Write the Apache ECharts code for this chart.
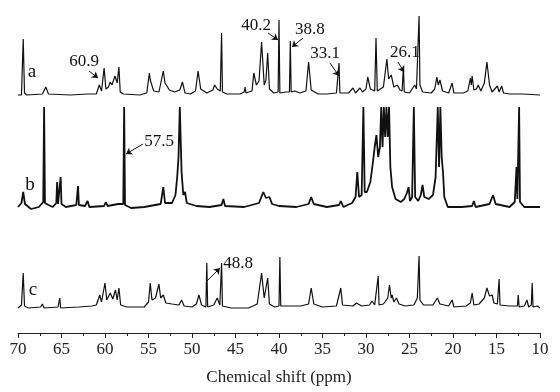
<!DOCTYPE html>
<html>
<head>
<meta charset="utf-8">
<script src="https://cdn.jsdelivr.net/npm/echarts@6/dist/echarts.min.js"></script>
<style>
  html, body { margin: 0; padding: 0; background: #fff; }
  #main { width: 560px; height: 392px; }
</style>
</head>
<body>
<div id="main"></div>
<script>
// spectra: [ppm, intensity]
var specA = [[70,0],[69.6,0],[69.4,56],[69.25,2],[69.0,0],[67.2,1],[66.8,8],[66.5,1],[64.0,0],[62.0,1],
  [61.0,1],[60.65,10],[60.4,4],[60.1,27],[59.9,6],[59.6,8],[59.4,13],[59.2,10],[58.85,19],[58.6,12],[58.4,28],[58.25,3],[57.9,1],
  [56.0,0],[55.2,2],[54.9,22],[54.8,15],[54.7,16],[54.4,4],[53.8,3],[53.3,24],[53.1,12],[52.9,13],[52.6,5],[52.0,3],[51.4,5],[51.1,13],[50.8,2],[50.2,1],
  [49.6,4],[49.3,24],[49.0,6],[48.3,2],[47.6,5],[47.4,10],[47.1,6],[46.75,4],[46.6,62],[46.5,3],[46.0,1],
  [44.5,1],[44.0,3],[43.9,8],[43.8,2],[43.1,4],[42.9,22],[42.6,10],[42.3,14],[42.0,53],[41.7,10],[41.5,15],[41.3,42],[41.1,6],[40.6,2],[40.1,3],[40.0,75],[39.9,2],
  [39.2,3],[38.8,3],[38.7,54],[38.6,3],[38.2,4],[37.6,2],[36.9,4],[36.6,33],[36.3,5],[35.5,1],[34.5,1],[33.4,2],[33.1,32],[33.0,2],[32.0,2],[31.5,7],[31.2,2],
  [30.7,7],[30.4,3],[30.0,6],[29.8,18],[29.5,6],[29.0,4],[28.85,57],[28.7,4],[28.0,8],[27.6,36],[27.4,16],[27.1,20],[26.8,8],[26.4,10],[26.1,5],[25.85,4],[25.7,28],[25.6,3],
  [25.0,2],[24.4,10],[24.2,6],[23.9,79],[23.8,10],[23.5,3],[22.5,2],[22.1,6],[21.85,18],[21.7,10],[21.5,15],[21.2,4],[20.5,2],[20.1,12],[19.9,2],
  [18.8,2],[18.3,4],[18.0,17],[17.9,10],[17.8,19],[17.6,5],[17.3,6],[17.1,10],[16.8,4],[16.4,12],[16.1,33],[15.8,10],[15.5,3],[14.9,9],[14.7,3],[14.4,9],[14.2,2],[13.5,1],[12.0,1],[10,0]];

var specB = [[70,0],[69.6,4],[69.4,15],[69.2,3],[68.5,-2],[67.6,0],[67.1,5],[67.0,100],[66.9,4],[66.5,2],[66.0,0],[65.6,4],[65.5,25],[65.4,3],[65.2,4],[65.1,30],[65.0,3],
  [64.5,0],[63.3,2],[63.1,21],[63.0,2],[62.3,1],[62.0,6],[61.8,0],[60.1,1],[59.9,5],[59.7,1],[58.5,3],[57.9,3],[57.8,100],[57.7,2],[57.0,-1],[55.5,0],
  [53.6,3],[53.3,20],[53.1,4],[52.3,4],[51.9,12],[51.7,30],[51.55,50],[51.4,100],[51.2,35],[51.0,12],[50.8,15],[50.6,4],[49.5,1],[48.0,0],[46.6,2],[46.4,8],[46.2,1],
  [44.0,0],[42.3,4],[41.8,15],[41.5,9],[41.1,10],[40.8,3],[40.0,1],[38.0,0],[36.6,3],[36.3,10],[36.0,3],[34.5,0],[33.1,2],[32.9,6],[32.6,0],
  [31.6,4],[31.2,10],[31.0,35],[30.8,10],[30.5,12],[30.3,100],[30.15,15],[29.9,15],[29.5,25],[29.2,45],[29.0,60],[28.8,72],[28.6,50],[28.4,60],[28.25,100],[28.1,60],
  [27.95,100],[27.8,70],[27.65,100],[27.5,70],[27.35,100],[27.2,40],[27.0,20],[26.6,8],[26.0,5],[25.6,8],[25.3,14],[25.1,20],[24.95,6],[24.7,10],[24.5,100],[24.35,10],
  [24.0,6],[23.7,12],[23.5,22],[23.3,10],[22.8,8],[22.3,12],[22.0,30],[21.75,100],[21.6,40],[21.45,100],[21.3,50],[21.15,35],[21.0,10],[20.6,0],[19.0,0],
  [17.8,1],[17.6,6],[17.4,0],[15.8,3],[15.4,12],[15.1,3],[13.5,0],[12.9,5],[12.7,40],[12.6,8],[12.5,10],[12.4,100],[12.3,5],[11.8,0],[10,0]];

var specC = [[70,0],[69.6,3],[69.4,35],[69.25,2],[68.8,0],[67.4,1],[67.2,4],[67.0,0],[65.4,1],[65.2,10],[65.1,0],[63.0,1],[61.5,2],[61.0,3],
  [60.6,13],[60.4,6],[60.0,25],[59.8,8],[59.6,10],[59.4,15],[59.1,9],[58.8,18],[58.6,8],[58.4,20],[58.2,3],[57.5,1],[55.5,1],[55.0,6],[54.8,25],[54.6,8],
  [54.2,10],[53.8,24],[53.6,10],[53.3,13],[53.0,5],[52.3,4],[51.5,3],[51.2,8],[50.9,2],[50.0,1],[49.5,4],[49.2,13],[48.9,3],[48.4,1],[48.3,45],[48.2,1],
  [47.5,3],[47.1,10],[46.8,3],[46.7,2],[46.6,45],[46.5,2],[45.5,0],[43.5,0],[42.5,4],[42.0,35],[41.7,10],[41.5,12],[41.3,30],[41.1,4],[40.5,1],[40.0,2],[39.9,51],[39.8,2],
  [38.8,2],[37.5,2],[36.6,4],[36.3,20],[36.0,4],[35.0,1],[33.4,2],[32.9,20],[32.7,3],[31.5,2],[31.1,5],[30.5,2],[29.6,3],[29.3,7],[29.0,3],[28.6,32],[28.5,3],
  [28.0,4],[27.5,10],[27.3,23],[27.1,10],[27.0,13],[26.8,6],[26.5,10],[26.2,4],[25.5,2],[24.5,3],[24.1,10],[23.9,52],[23.8,8],[23.4,3],[22.3,3],[21.8,10],[21.5,4],
  [20.5,2],[20.1,8],[19.9,1],[18.5,2],[18.0,5],[17.8,15],[17.6,3],[17.0,4],[16.4,10],[16.1,20],[15.8,12],[15.5,13],[15.3,5],[14.9,4],[14.7,29],[14.6,3],
  [13.5,2],[12.6,2],[12.5,13],[12.4,1],[11.8,2],[11.5,8],[11.3,1],[11.0,3],[10.9,25],[10.8,1],[10.3,2],[10,0]];

var traceNames = ['a', 'b', 'c'];
var traceOffsets = [238, 126, 25];
var xTicks = [70, 65, 60, 55, 50, 45, 40, 35, 30, 25, 20, 15, 10];

// peak labels: text, text position [ppm, y], arrow from, arrow to
var peakLabels = [
  ['60.9', [62.41, 271], [61.84, 262], [60.80, 255]],
  ['40.2', [42.64, 307], [41.26, 300], [40.11, 293]],
  ['38.8', [36.44, 303], [37.24, 295], [38.51, 286]],
  ['33.1', [34.71, 279], [34.14, 270], [33.10, 257]],
  ['26.1', [25.52, 280], [26.32, 271], [25.63, 261]],
  ['57.5', [53.79, 191], [55.63, 189], [57.59, 179]],
  ['48.8', [44.71, 69], [48.28, 52], [46.78, 65]]
];

var FONT = 'Liberation Serif';
var chart = echarts.init(document.getElementById('main'));

function shift(spec, off) {
  return spec.map(function (p) { return [p[0], p[1] + off]; });
}

var arrows = peakLabels.map(function (l) {
  return [{ coord: l[2] }, { coord: l[3] }];
});

var option = {
  animation: false,
  textStyle: { fontFamily: FONT },
  grid: { left: 18, right: 20, top: 0, bottom: 59 },
  xAxis: {
    type: 'value', inverse: true, min: 10, max: 70, interval: 5,
    name: 'Chemical shift (ppm)', nameLocation: 'middle', nameGap: 36,
    nameTextStyle: { fontFamily: FONT, fontSize: 17, color: '#222' },
    axisLine: { lineStyle: { color: '#222', width: 1 } },
    axisTick: { length: 5, lineStyle: { color: '#222' } },
    minorTick: { show: true, splitNumber: 2, length: 3, lineStyle: { color: '#222' } },
    splitLine: { show: false },
    axisLabel: { fontFamily: FONT, fontSize: 17, color: '#222', margin: 8,
      formatter: function (v) { return xTicks.indexOf(v) >= 0 ? String(v) : ''; } }
  },
  yAxis: { type: 'value', min: 0, max: 333, show: false },
  series: [specA, specB, specC].map(function (s, i) {
    var ser = {
      name: traceNames[i], type: 'line', data: shift(s, traceOffsets[i]),
      showSymbol: false, silent: true,
      lineStyle: { color: '#111', width: i === 1 ? 1.8 : 1.2 }
    };
    if (i === 0) {
      ser.markLine = {
        silent: true, symbol: ['none', 'arrow'], symbolSize: 6,
        label: { show: false },
        lineStyle: { color: '#111', width: 1, type: 'solid' },
        data: arrows
      };
    }
    return ser;
  })
};
chart.setOption(option);

var graphics = [];
peakLabels.forEach(function (l) {
  var p = chart.convertToPixel({ gridIndex: 0 }, l[1]);
  graphics.push({ type: 'text', x: p[0], y: p[1],
    style: { text: l[0], font: '17px ' + FONT, fill: '#111', align: 'center', verticalAlign: 'middle' } });
});
var letterPos = [[32, 72], [30, 185], [33, 290]];
traceNames.forEach(function (n, i) {
  graphics.push({ type: 'text', x: letterPos[i][0], y: letterPos[i][1],
    style: { text: n, font: '19px ' + FONT, fill: '#111', align: 'center', verticalAlign: 'middle' } });
});
chart.setOption({ graphic: graphics });
</script>
</body>
</html>
